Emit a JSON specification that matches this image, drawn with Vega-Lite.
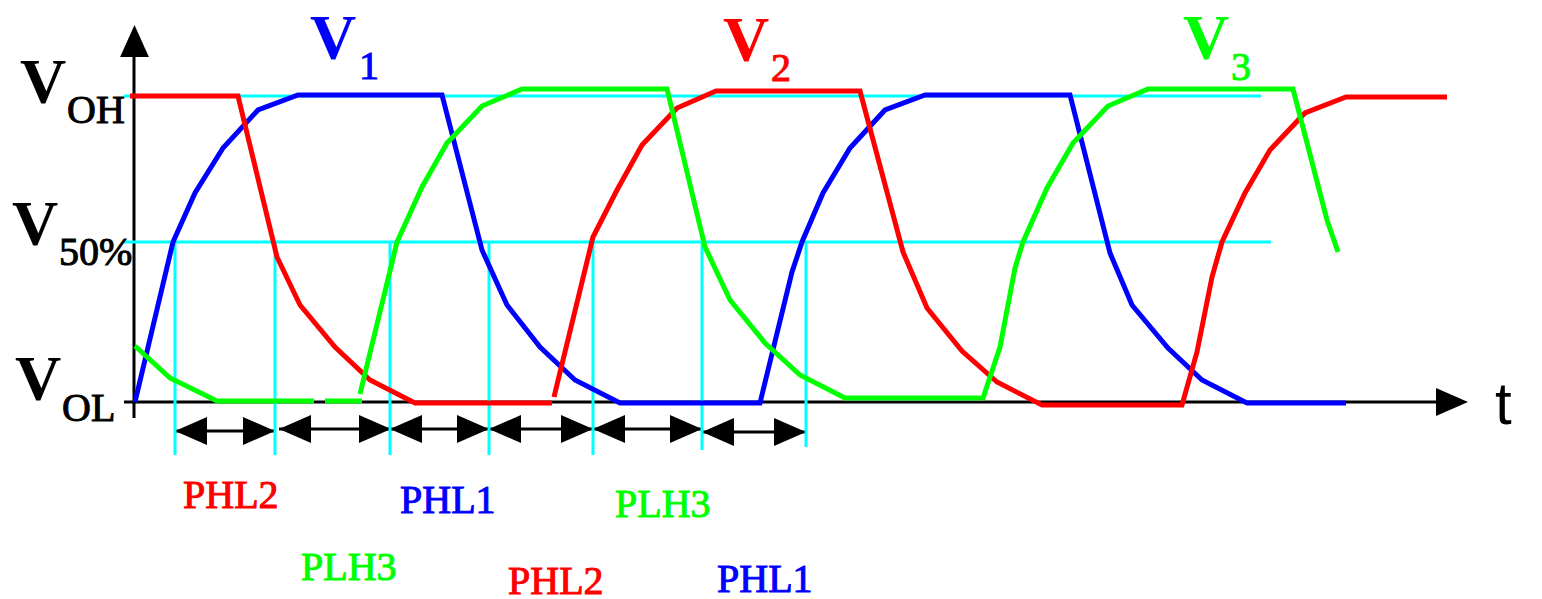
{
  "$schema": "https://vega.github.io/schema/vega-lite/v6.json",
  "width": 1542,
  "height": 599,
  "padding": 0,
  "autosize": {"type": "none"},
  "background": "white",
  "config": {"view": {"stroke": null}},
  "datasets": {
    "guides": [
      {"t": -11, "v": 306, "t2": 1126, "v2": 306},
      {"t": -12, "v": 160, "t2": 1136, "v2": 160},
      {"t": 40, "v": 160, "t2": 40, "v2": -53},
      {"t": 140, "v": 160, "t2": 140, "v2": -53},
      {"t": 255, "v": 160, "t2": 255, "v2": -53},
      {"t": 354, "v": 160, "t2": 354, "v2": -53},
      {"t": 458, "v": 160, "t2": 458, "v2": -53},
      {"t": 567, "v": 160, "t2": 567, "v2": -48},
      {"t": 671, "v": 160, "t2": 671, "v2": -45}
    ],
    "axes": [
      {"t": -11, "v": 0, "t2": 1310, "v2": 0},
      {"t": -1, "v": 345, "t2": -1, "v2": -16}
    ],
    "spans": [
      {"t": 40, "v": -29, "t2": 140, "v2": -29},
      {"t": 144, "v": -27, "t2": 255, "v2": -27},
      {"t": 255, "v": -27, "t2": 354, "v2": -27},
      {"t": 354, "v": -27, "t2": 458, "v2": -27},
      {"t": 458, "v": -27, "t2": 567, "v2": -27},
      {"t": 567, "v": -30, "t2": 671, "v2": -30}
    ],
    "heads": [
      {"t": 56, "v": -29, "dir": "left"},
      {"t": 124, "v": -29, "dir": "right"},
      {"t": 160, "v": -27, "dir": "left"},
      {"t": 240, "v": -27, "dir": "right"},
      {"t": 271, "v": -27, "dir": "left"},
      {"t": 338, "v": -27, "dir": "right"},
      {"t": 370, "v": -27, "dir": "left"},
      {"t": 442, "v": -27, "dir": "right"},
      {"t": 474, "v": -27, "dir": "left"},
      {"t": 551, "v": -27, "dir": "right"},
      {"t": 583, "v": -30, "dir": "left"},
      {"t": 655, "v": -30, "dir": "right"},
      {"t": 1317, "v": 0, "dir": "right"},
      {"t": -0.5, "v": 361, "dir": "up"}
    ],
    "waves": [
      {"signal": "V1", "seg": "b1", "t": 0, "v": 0},
      {"signal": "V1", "seg": "b1", "t": 38, "v": 160},
      {"signal": "V1", "seg": "b1", "t": 60, "v": 209},
      {"signal": "V1", "seg": "b1", "t": 88, "v": 254},
      {"signal": "V1", "seg": "b1", "t": 123, "v": 292},
      {"signal": "V1", "seg": "b1", "t": 163, "v": 307},
      {"signal": "V1", "seg": "b1", "t": 307, "v": 307},
      {"signal": "V1", "seg": "b1", "t": 347, "v": 152},
      {"signal": "V1", "seg": "b1", "t": 372, "v": 97},
      {"signal": "V1", "seg": "b1", "t": 405, "v": 55},
      {"signal": "V1", "seg": "b1", "t": 440, "v": 22},
      {"signal": "V1", "seg": "b1", "t": 485, "v": -1},
      {"signal": "V1", "seg": "b1", "t": 625, "v": -1},
      {"signal": "V1", "seg": "b1", "t": 635, "v": 40},
      {"signal": "V1", "seg": "b1", "t": 657, "v": 130},
      {"signal": "V1", "seg": "b1", "t": 667, "v": 160},
      {"signal": "V1", "seg": "b1", "t": 688, "v": 209},
      {"signal": "V1", "seg": "b1", "t": 715, "v": 254},
      {"signal": "V1", "seg": "b1", "t": 750, "v": 292},
      {"signal": "V1", "seg": "b1", "t": 790, "v": 307},
      {"signal": "V1", "seg": "b1", "t": 935, "v": 307},
      {"signal": "V1", "seg": "b1", "t": 975, "v": 149},
      {"signal": "V1", "seg": "b1", "t": 997, "v": 97},
      {"signal": "V1", "seg": "b1", "t": 1033, "v": 54},
      {"signal": "V1", "seg": "b1", "t": 1067, "v": 22},
      {"signal": "V1", "seg": "b1", "t": 1112, "v": -1},
      {"signal": "V1", "seg": "b1", "t": 1211, "v": -1},

      {"signal": "V2", "seg": "r1", "t": -5, "v": 306},
      {"signal": "V2", "seg": "r1", "t": 103, "v": 306},
      {"signal": "V2", "seg": "r1", "t": 142, "v": 145},
      {"signal": "V2", "seg": "r1", "t": 165, "v": 97},
      {"signal": "V2", "seg": "r1", "t": 200, "v": 55},
      {"signal": "V2", "seg": "r1", "t": 235, "v": 22},
      {"signal": "V2", "seg": "r1", "t": 280, "v": -1},
      {"signal": "V2", "seg": "r1", "t": 417, "v": -1},
      {"signal": "V2", "seg": "r2", "t": 419, "v": 5},
      {"signal": "V2", "seg": "r2", "t": 458, "v": 165},
      {"signal": "V2", "seg": "r2", "t": 482, "v": 212},
      {"signal": "V2", "seg": "r2", "t": 507, "v": 257},
      {"signal": "V2", "seg": "r2", "t": 542, "v": 294},
      {"signal": "V2", "seg": "r2", "t": 581, "v": 311},
      {"signal": "V2", "seg": "r2", "t": 725, "v": 311},
      {"signal": "V2", "seg": "r2", "t": 768, "v": 150},
      {"signal": "V2", "seg": "r2", "t": 792, "v": 94},
      {"signal": "V2", "seg": "r2", "t": 827, "v": 51},
      {"signal": "V2", "seg": "r2", "t": 862, "v": 20},
      {"signal": "V2", "seg": "r2", "t": 907, "v": -3},
      {"signal": "V2", "seg": "r2", "t": 1047, "v": -3},
      {"signal": "V2", "seg": "r2", "t": 1062, "v": 50},
      {"signal": "V2", "seg": "r2", "t": 1077, "v": 125},
      {"signal": "V2", "seg": "r2", "t": 1087, "v": 160},
      {"signal": "V2", "seg": "r2", "t": 1110, "v": 209},
      {"signal": "V2", "seg": "r2", "t": 1135, "v": 252},
      {"signal": "V2", "seg": "r2", "t": 1170, "v": 289},
      {"signal": "V2", "seg": "r2", "t": 1211, "v": 305},
      {"signal": "V2", "seg": "r2", "t": 1312, "v": 305},

      {"signal": "V3", "seg": "g1", "t": 0, "v": 56},
      {"signal": "V3", "seg": "g1", "t": 35, "v": 24},
      {"signal": "V3", "seg": "g1", "t": 82, "v": 1},
      {"signal": "V3", "seg": "g1", "t": 179, "v": 1},
      {"signal": "V3", "seg": "g2", "t": 190, "v": 1},
      {"signal": "V3", "seg": "g2", "t": 227, "v": 1},
      {"signal": "V3", "seg": "g3", "t": 225, "v": 8},
      {"signal": "V3", "seg": "g3", "t": 262, "v": 160},
      {"signal": "V3", "seg": "g3", "t": 287, "v": 215},
      {"signal": "V3", "seg": "g3", "t": 312, "v": 259},
      {"signal": "V3", "seg": "g3", "t": 347, "v": 296},
      {"signal": "V3", "seg": "g3", "t": 387, "v": 313},
      {"signal": "V3", "seg": "g3", "t": 532, "v": 313},
      {"signal": "V3", "seg": "g3", "t": 570, "v": 155},
      {"signal": "V3", "seg": "g3", "t": 595, "v": 102},
      {"signal": "V3", "seg": "g3", "t": 630, "v": 59},
      {"signal": "V3", "seg": "g3", "t": 665, "v": 27},
      {"signal": "V3", "seg": "g3", "t": 710, "v": 4},
      {"signal": "V3", "seg": "g3", "t": 848, "v": 4},
      {"signal": "V3", "seg": "g3", "t": 865, "v": 55},
      {"signal": "V3", "seg": "g3", "t": 880, "v": 134},
      {"signal": "V3", "seg": "g3", "t": 888, "v": 160},
      {"signal": "V3", "seg": "g3", "t": 912, "v": 214},
      {"signal": "V3", "seg": "g3", "t": 938, "v": 259},
      {"signal": "V3", "seg": "g3", "t": 973, "v": 296},
      {"signal": "V3", "seg": "g3", "t": 1013, "v": 313},
      {"signal": "V3", "seg": "g3", "t": 1158, "v": 313},
      {"signal": "V3", "seg": "g3", "t": 1192, "v": 182},
      {"signal": "V3", "seg": "g3", "t": 1203, "v": 150}
    ],
    "bigV": [
      {"label": "V", "signal": "axis", "t": -115, "v": 299},
      {"label": "V", "signal": "axis", "t": -123, "v": 157},
      {"label": "V", "signal": "axis", "t": -120, "v": 2},
      {"label": "V", "signal": "V1", "t": 175, "v": 343},
      {"label": "V", "signal": "V2", "t": 588, "v": 341},
      {"label": "V", "signal": "V3", "t": 1048, "v": 343}
    ],
    "small": [
      {"label": "OH", "signal": "axis", "t": -68, "v": 279},
      {"label": "50%", "signal": "axis", "t": -76, "v": 137},
      {"label": "OL", "signal": "axis", "t": -73, "v": -19},
      {"label": "1", "signal": "V1", "t": 224, "v": 323},
      {"label": "2", "signal": "V2", "t": 636, "v": 321},
      {"label": "3", "signal": "V3", "t": 1096, "v": 322},
      {"label": "PHL2", "signal": "V2", "t": 48, "v": -106},
      {"label": "PLH3", "signal": "V3", "t": 166, "v": -178},
      {"label": "PHL1", "signal": "V1", "t": 265, "v": -111},
      {"label": "PHL2", "signal": "V2", "t": 373, "v": -192},
      {"label": "PLH3", "signal": "V3", "t": 480, "v": -115},
      {"label": "PHL1", "signal": "V1", "t": 582, "v": -190}
    ],
    "tlabel": [
      {"label": "t", "t": 1360, "v": -22}
    ]
  },
  "encoding": {
    "x": {"field": "t", "type": "quantitative", "scale": {"domain": [-135, 1407], "nice": false, "zero": false}, "axis": null},
    "y": {"field": "v", "type": "quantitative", "scale": {"domain": [-197, 402], "nice": false, "zero": false}, "axis": null}
  },
  "layer": [
    {
      "data": {"name": "axes"},
      "mark": {"type": "rule", "color": "#000000", "strokeWidth": 3},
      "encoding": {"x2": {"field": "t2"}, "y2": {"field": "v2"}}
    },
    {
      "data": {"name": "spans"},
      "mark": {"type": "rule", "color": "#000000", "strokeWidth": 3},
      "encoding": {"x2": {"field": "t2"}, "y2": {"field": "v2"}}
    },
    {
      "data": {"name": "heads"},
      "mark": {"type": "point", "filled": true, "opacity": 1, "color": "#000000", "size": 1024, "strokeWidth": 0},
      "encoding": {
        "shape": {
          "field": "dir",
          "type": "nominal",
          "scale": {
            "domain": ["left", "right", "up"],
            "range": ["M-1,0L1,-0.88L1,0.88Z", "M1,0L-1,-0.88L-1,0.88Z", "M0,-1L0.9,1L-0.9,1Z"]
          },
          "legend": null
        }
      }
    },
    {
      "data": {"name": "guides"},
      "mark": {"type": "rule", "color": "#00ffff", "strokeWidth": 3},
      "encoding": {"x2": {"field": "t2"}, "y2": {"field": "v2"}}
    },
    {
      "data": {"name": "waves"},
      "mark": {"type": "line", "strokeWidth": 5, "strokeJoin": "miter"},
      "encoding": {
        "color": {"field": "signal", "type": "nominal", "scale": {"domain": ["V1", "V2", "V3", "axis"], "range": ["#0000ff", "#ff0000", "#00ff00", "#000000"]}, "legend": null},
        "detail": {"field": "seg"}
      }
    },
    {
      "data": {"name": "bigV"},
      "mark": {"type": "text", "font": "Liberation Serif", "fontWeight": "bold", "fontSize": 64, "align": "left", "baseline": "alphabetic"},
      "encoding": {
        "text": {"field": "label"},
        "color": {"field": "signal", "type": "nominal", "scale": {"domain": ["V1", "V2", "V3", "axis"], "range": ["#0000ff", "#ff0000", "#00ff00", "#000000"]}, "legend": null}
      }
    },
    {
      "data": {"name": "small"},
      "mark": {"type": "text", "font": "Liberation Serif", "fontSize": 40, "align": "left", "baseline": "alphabetic", "strokeWidth": 1},
      "encoding": {
        "text": {"field": "label"},
        "color": {"field": "signal", "type": "nominal", "scale": {"domain": ["V1", "V2", "V3", "axis"], "range": ["#0000ff", "#ff0000", "#00ff00", "#000000"]}, "legend": null},
        "stroke": {"field": "signal", "type": "nominal", "scale": {"domain": ["V1", "V2", "V3", "axis"], "range": ["#0000ff", "#ff0000", "#00ff00", "#000000"]}, "legend": null}
      }
    },
    {
      "data": {"name": "tlabel"},
      "mark": {"type": "text", "font": "Liberation Sans", "fontSize": 60, "align": "left", "baseline": "alphabetic", "color": "#000000"},
      "encoding": {"text": {"field": "label"}}
    }
  ]
}
